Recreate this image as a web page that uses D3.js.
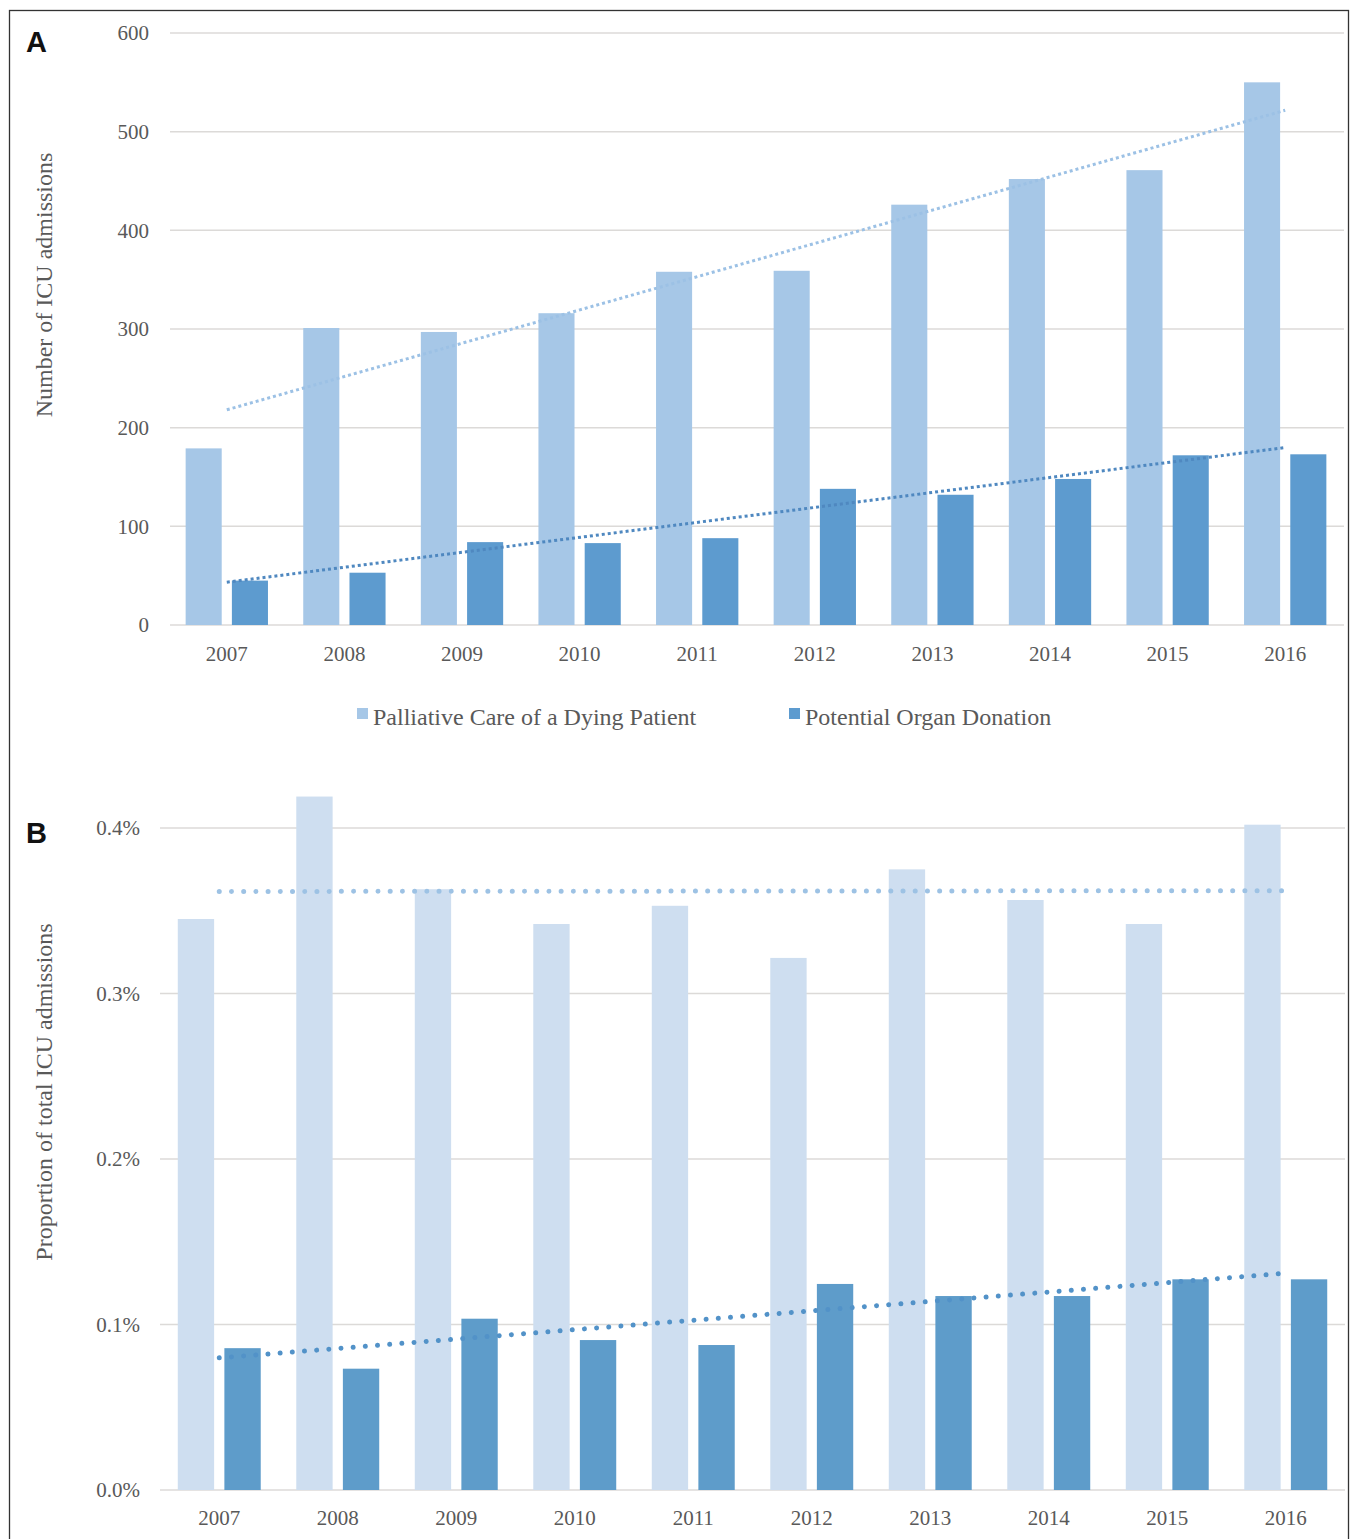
<!DOCTYPE html>
<html>
<head>
<meta charset="utf-8">
<script src="https://cdn.jsdelivr.net/npm/d3@7"></script>
<style>
  body { margin: 0; background: #fff; }
  svg { display: block; }
  .tick text { font-family: "Liberation Serif", "Times New Roman", serif; fill: #595959; }
</style>
</head>
<body>
<svg id="chart" width="1355" height="1539"></svg>
<script>
const years = ['2007', '2008', '2009', '2010', '2011', '2012', '2013', '2014', '2015', '2016'];
const seriesNames = ['Palliative Care of a Dying Patient', 'Potential Organ Donation'];

// panel A: number of ICU admissions
const palliativeCount = [179, 301, 297, 316, 358, 359, 426, 452, 461, 550];
const donationCount = [45, 53, 84, 83, 88, 138, 132, 148, 172, 173];
const countTicks = [0, 100, 200, 300, 400, 500, 600];

// panel B: proportion of total ICU admissions (%)
const palliativePct = [0.345, 0.419, 0.363, 0.342, 0.353, 0.3215, 0.375, 0.3565, 0.342, 0.402];
const donationPct = [0.0857, 0.0733, 0.1035, 0.0906, 0.0876, 0.1245, 0.1172, 0.1172, 0.1273, 0.1273];
const pctTicks = [0, 0.1, 0.2, 0.3, 0.4];

const svg = d3.select('#chart');
const FONT = '"Liberation Serif", "Times New Roman", serif';
const TEXT = '#595959';
const GRID = '#dcdad8';

// outer frame
svg.append('rect')
  .attr('x', 9.5).attr('y', 10.5).attr('width', 1339).attr('height', 1560)
  .attr('fill', 'none').attr('stroke', '#333').attr('stroke-width', 1.3);

// least squares line, like the spreadsheet's linear trendline
function trend(values) {
  const n = values.length;
  const mx = d3.mean(values, (_, i) => i);
  const my = d3.mean(values);
  const sxy = d3.sum(values, (v, i) => (i - mx) * (v - my));
  const sxx = d3.sum(values, (_, i) => (i - mx) * (i - mx));
  const b = sxy / sxx;
  return [[0, my - b * mx], [n - 1, my - b * mx + b * (n - 1)]];
}

function drawPanel(opt) {
  const g = svg.append('g');
  const x0 = d3.scaleBand().domain(years).range([opt.left, opt.right])
    .paddingInner(0.3).paddingOuter(0.15);
  const x1 = d3.scaleBand().domain([0, 1]).range([0, x0.bandwidth()]).paddingInner(0.22);
  const y = d3.scaleLinear().domain([0, opt.max]).range([opt.bottom, opt.top]);

  // gridlines
  g.append('g').selectAll('line').data(opt.ticks).join('line')
    .attr('x1', opt.gridLeft).attr('x2', opt.right)
    .attr('y1', (d) => y(d)).attr('y2', (d) => y(d))
    .attr('stroke', GRID).attr('stroke-width', 1.5);

  // y axis labels
  const ya = g.append('g').attr('transform', `translate(${opt.left},0)`)
    .call(d3.axisLeft(y).tickValues(opt.ticks).tickSize(0).tickPadding(opt.yPad).tickFormat(opt.fmt));
  ya.select('.domain').remove();
  ya.selectAll('text').style('font-size', '21px');

  // x axis labels
  const xa = g.append('g').attr('transform', `translate(0,${opt.bottom})`)
    .call(d3.axisBottom(x0).tickSize(0).tickPadding(opt.xPad));
  xa.select('.domain').remove();
  xa.selectAll('text').style('font-size', '21px');

  // bars
  opt.series.forEach((vals, s) => {
    g.append('g').selectAll('rect').data(vals).join('rect')
      .attr('x', (d, i) => x0(years[i]) + x1(s))
      .attr('y', (d) => y(d))
      .attr('width', x1.bandwidth())
      .attr('height', (d) => y(0) - y(d))
      .attr('fill', opt.colors[s]);
  });

  // trendlines
  const cx = (i) => x0(years[i]) + x0.bandwidth() / 2;
  const line = d3.line().x((p) => cx(p[0])).y((p) => y(p[1]));
  opt.series.forEach((vals, s) => {
    g.append('path')
      .attr('d', line(trend(vals)))
      .attr('fill', 'none')
      .attr('stroke', opt.trendColors[s])
      .attr('stroke-width', opt.dotWidth)
      .attr('stroke-linecap', opt.dotCap)
      .attr('stroke-dasharray', opt.dash);
  });

  // y axis title
  g.append('text')
    .attr('transform', `translate(44,${opt.titleY}) rotate(-90)`)
    .attr('text-anchor', 'middle').attr('dy', '0.35em')
    .style('font-family', FONT).style('font-size', '24px').attr('fill', TEXT)
    .text(opt.title);

  // panel letter
  g.append('text')
    .attr('x', 26).attr('y', opt.letterY)
    .style('font-family', '"Liberation Sans", Arial, sans-serif')
    .style('font-weight', 'bold').style('font-size', '29px').attr('fill', '#111')
    .text(opt.letter);
}

drawPanel({
  letter: 'A', letterY: 52,
  left: 168, right: 1344, gridLeft: 170, top: 33, bottom: 625, max: 600,
  ticks: countTicks, fmt: d3.format('d'), yPad: 19, xPad: 21,
  series: [palliativeCount, donationCount],
  colors: ['#a6c7e7', '#5d9bcf'],
  trendColors: ['#9cc1e5', '#4f88c0'],
  dotWidth: 3, dotCap: 'butt', dash: '3,3',
  title: 'Number of ICU admissions', titleY: 285
});

drawPanel({
  letter: 'B', letterY: 843,
  left: 160, right: 1345, gridLeft: 160, top: 828, bottom: 1490, max: 0.4,
  ticks: pctTicks, fmt: (d) => d.toFixed(1) + '%', yPad: 20, xPad: 20,
  series: [palliativePct, donationPct],
  colors: ['#cedef0', '#5e9cca'],
  trendColors: ['#9dc2e4', '#5292c8'],
  dotWidth: 5, dotCap: 'round', dash: '0.01,12.2',
  title: 'Proportion of total ICU admissions', titleY: 1092
});

// legend (panel A)
const legendItems = [
  { name: seriesNames[0], color: '#a6c7e7', x: 357 },
  { name: seriesNames[1], color: '#5d9bcf', x: 789 }
];
const lg = svg.append('g').selectAll('g').data(legendItems).join('g')
  .attr('transform', (d) => `translate(${d.x},708)`);
lg.append('rect').attr('width', 11).attr('height', 11).attr('fill', (d) => d.color);
lg.append('text').attr('x', 16).attr('y', 17)
  .style('font-family', FONT).style('font-size', '24px').attr('fill', TEXT)
  .text((d) => d.name);
</script>
</body>
</html>
